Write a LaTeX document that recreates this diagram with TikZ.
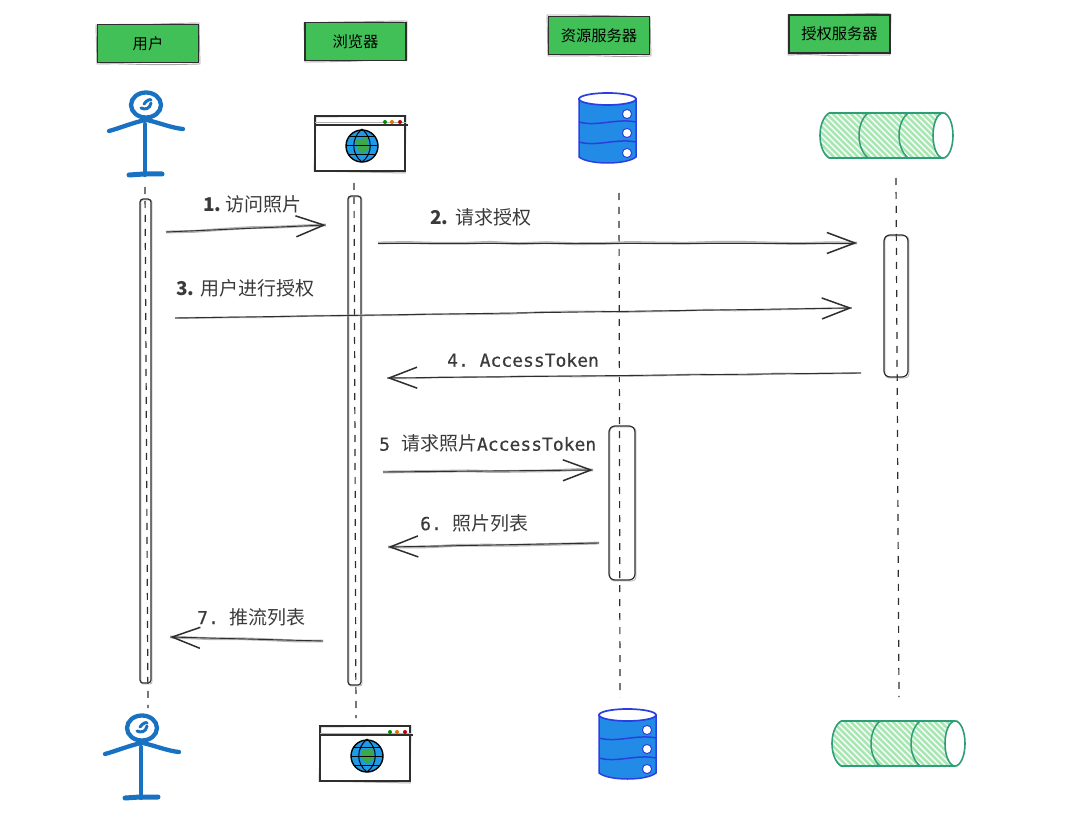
\documentclass[tikz,border=0pt]{standalone}
\usepackage{fontspec}
\setmainfont{Noto Sans CJK SC}
\newfontfamily\monof[RawFeature={embolden=0.5}]{DejaVu Sans Mono}
\usetikzlibrary{arrows.meta,decorations.pathmorphing}
\definecolor{hdrgreen}{HTML}{40C057}
\definecolor{manblue}{HTML}{1971C2}
\definecolor{dbblue}{HTML}{228BE6}
\definecolor{dbline}{HTML}{2B3FE0}
\definecolor{cylline}{HTML}{2F9E78}
\definecolor{hatch}{HTML}{A8E6B3}
\definecolor{globeblue}{HTML}{1C9BE8}
\definecolor{globegreen}{HTML}{3DA84A}
\definecolor{ink}{HTML}{2E2E2E}
\definecolor{txt}{HTML}{3A3A3A}
\pgfmathsetseed{7}
\tikzset{
  x=1pt,y=-1pt,
  rough/.style={decorate,decoration={random steps,segment length=28pt,amplitude=.7pt}},
  header/.style={draw=ink,line width=1.5pt,fill=hdrgreen,minimum width=101pt,minimum height=38pt,inner sep=0pt,text=black,font=\fontsize{15.3pt}{17pt}\selectfont},
  hdrunder/.style={draw=gray!70,line width=.9pt,rough},
  barbox/.style={draw=ink,line width=1.2pt,rounded corners=3pt,inner sep=0pt},
  barunder/.style={draw=gray!60,line width=.8pt},
  life/.style={draw=ink,line width=1.2pt,dash pattern=on 7pt off 7pt},
  msg/.style={draw=ink,line width=.9pt,-{Straight Barb[length=28pt,width=21pt,line width=1.5pt]}},
  msgunder/.style={draw=gray!60,line width=2.8pt,rough},
  lbl/.style={text=txt,anchor=west,inner sep=0pt,font=\fontsize{19pt}{22pt}\selectfont\frenchspacing},
  monolbl/.style={lbl,font=\monof\fontsize{18pt}{20pt}\selectfont\frenchspacing},
  man/.pic={
    \draw[manblue,line width=4.3pt,line cap=round] (0,0) ellipse [x radius=15,y radius=12.5];
    \draw[manblue,line width=3pt,line cap=round] (-5,3) .. controls (-1,5) and (4,4) .. (5,-2);
    \draw[manblue,line width=3pt,line cap=round] (-2,-1) .. controls (1,-5) and (4,-6) .. (5,-5);
    \draw[manblue,line width=4.3pt,line cap=round] (-1,15) .. controls (-14,18) and (-26,23) .. (-37,26);
    \draw[manblue,line width=4.3pt,line cap=round] (1,15) .. controls (14,18) and (26,23) .. (37,24);
    \draw[manblue,line width=4.3pt,line cap=round] (-1,19) -- (-1,70);
    \draw[manblue,line width=5pt,line cap=round] (-17,70) -- (-2,69) -- (16,69);
  },
  browserwin/.pic={
    \draw[gray!60,line width=1pt] (1,1) -- (91,0) -- (90,57) -- (-1,55) -- cycle;
    \draw[ink,line width=1.4pt] (0,0) rectangle (90,55);
    \draw[gray!60,line width=1pt] (0,7) -- (91,7);
    \draw[ink,line width=1.2pt] (0,9) -- (93,9);
    \fill[green!55!black] (70,6) circle (2);
    \fill[orange!90!black] (77,6) circle (2);
    \fill[red!75!black] (85,6) circle (2);
    \draw[black,fill=globeblue,line width=1.4pt] (47,30) circle (16);
    \fill[globegreen] (41,24) -- (52,22) -- (54,33) -- (47,38) -- (42,33) -- cycle;
    \draw[black,line width=1pt] (47,13) .. controls (36,22) and (36,38) .. (47,46);
    \draw[black,line width=1pt] (47,13) .. controls (58,22) and (58,38) .. (47,46);
    \draw[black,line width=1pt] (31,30) -- (63,30);
    \draw[black,line width=1pt] (34,21) -- (60,21);
    \draw[black,line width=1pt] (34,39) -- (60,39);
  },
  dbcyl/.pic={
    \draw[dbline,fill=dbblue,line width=1.5pt] (0,0) -- (0,58) .. controls (10,66) and (47,66) .. (57,58) -- (57,0) -- cycle;
    \draw[dbline,fill=white,line width=1.7pt] (28.5,0) ellipse [x radius=28.5,y radius=6];
    \draw[dbline,line width=1.5pt] (0,23) .. controls (18,28) and (38,19) .. (57,23);
    \draw[dbline,line width=1.5pt] (0,43) .. controls (18,48) and (38,39) .. (57,43);
    \foreach \hy in {15,34,54} \draw[dbline,fill=white,line width=1pt] (48,\hy) circle (4.6);
  },
  hatchcyl/.pic={
    \begin{scope}
      \clip (9,-1) -- (126,-1) -- (126,46) -- (9,46) .. controls (-3,38) and (-3,8) .. (9,-1) -- cycle;
      \foreach \i in {-50,-44,...,130} \draw[hatch,line width=2.8pt] (\i,-2) -- (\i+50,48);
    \end{scope}
    \draw[cylline,line width=1.6pt] (9,0) -- (123,0);
    \draw[cylline,line width=1.6pt] (9,45) -- (123,45);
    \draw[cylline,line width=1.6pt] (9,0) .. controls (-3,8) and (-3,37) .. (9,45);
    \draw[cylline,line width=1.5pt] (48,0) .. controls (36,10) and (36,35) .. (48,45);
    \draw[cylline,line width=1.5pt] (88,0) .. controls (76,10) and (76,35) .. (88,45);
    \draw[cylline,fill=white,line width=1.6pt] (123,22.5) ellipse [x radius=10,y radius=22.5];
  },
}
\begin{document}
\begin{tikzpicture}
\useasboundingbox (0,0) rectangle (1090,821);

% headers
\draw[hdrunder] (96,25) -- (199,23) -- (200,64) -- (97,64) -- cycle;
\draw[hdrunder] (304,23) -- (407,21) -- (407,60) -- (305,62) -- cycle;
\draw[hdrunder] (547,15) -- (650,17) -- (651,56) -- (548,56) -- cycle;
\draw[hdrunder] (788,15) -- (891,14) -- (890,55) -- (788,55) -- cycle;
\node[header] (huser) at (148,43.5) {用户};
\node[header] (hbrowser) at (355.5,41.5) {浏览器};
\node[header] (hres) at (599,35.5) {资源服务器};
\node[header] (hauth) at (839.5,34) {授权服务器};

% icons
\pic at (146,105) {man};
\pic at (142,728) {man};
\pic at (315,116) {browserwin};
\pic at (320,726) {browserwin};
\pic at (579,99) {dbcyl};
\pic at (599,715) {dbcyl};
\pic at (820,113) {hatchcyl};
\pic at (832,721) {hatchcyl};

% lifeline ends
\coordinate (ut) at (145,187);
\coordinate (ub) at (148,708);
\coordinate (bt) at (354,183);
\coordinate (bb) at (356,718);
\coordinate (rt) at (619,193);
\coordinate (rb) at (620,697);
\coordinate (at) at (896,178);
\coordinate (ab) at (899,697);
\draw[life] (ut) -- (ub);
\draw[life] (bt) -- (bb);
\draw[life] (rt) -- (rb);
\draw[life] (at) -- (ab);

% activation bars
\draw[barunder,rounded corners=2pt] (141,200) rectangle (152,684);
\draw[barunder,rounded corners=2pt] (349,197) rectangle (362,686);
\draw[barunder,rounded corners=4pt] (610,427) rectangle (636,581);
\draw[barunder,rounded corners=4pt] (885,236) rectangle (909,378);
\node[barbox,minimum width=11pt,minimum height=484pt] (ubar) at (145.5,441) {};
\node[barbox,minimum width=13pt,minimum height=489pt] (bbar) at (354.5,440.5) {};
\node[barbox,minimum width=26pt,minimum height=154pt,rounded corners=6pt] (rbar) at (622,503) {};
\node[barbox,minimum width=24pt,minimum height=142pt,rounded corners=6pt] (abar) at (896,306) {};

% messages
\coordinate (m1s) at (166,232); \coordinate (m1e) at (326,225);
\coordinate (m2s) at (378,243); \coordinate (m2e) at (857,243);
\coordinate (m3s) at (175,318); \coordinate (m3e) at (852,308);
\coordinate (m4s) at (861,373); \coordinate (m4e) at (387,378);
\coordinate (m5s) at (383,472); \coordinate (m5e) at (593,470);
\coordinate (m6s) at (599,543); \coordinate (m6e) at (388,547);
\coordinate (m7s) at (323,641); \coordinate (m7e) at (170,637);
\draw[msgunder] (m1s) -- (m1e);
\draw[msgunder] (m2s) -- (m2e);
\draw[msgunder,line width=1.8pt] (m3s) -- (m3e);
\draw[msgunder,line width=1.8pt] (m4s) -- (m4e);
\draw[msgunder] (m5s) -- (m5e);
\draw[msgunder] (m6s) -- (m6e);
\draw[msgunder] (m7s) -- (m7e);
\draw[msg] (m1s) -- (m1e);
\draw[msg] (m2s) -- (m2e);
\draw[msg] (m3s) -- (m3e);
\draw[msg] (m4s) -- (m4e);
\draw[msg] (m5s) -- (m5e);
\draw[msg] (m6s) -- (m6e);
\draw[msg] (m7s) -- (m7e);

% labels
\node[lbl] (l1) at (203,204) {\textbf{1.}\hspace{4pt}访问照片};
\node[lbl] (l2) at (430,217) {\textbf{2.}\hspace{7pt}请求授权};
\node[lbl] (l3) at (176,288) {\textbf{3.}\hspace{6pt}用户进行授权};
\node[monolbl] (l4) at (447,360) {4. AccessToken};
\node[monolbl] (l5) at (379,443.5) {5\hspace{11pt}{\rmfamily\fontsize{19pt}{22pt}\selectfont 请求照片}AccessToken};
\node[monolbl] (l6) at (420,523) {6. {\rmfamily\fontsize{19pt}{22pt}\selectfont 照片列表}};
\node[monolbl] (l7) at (197,617) {7. {\rmfamily\fontsize{19pt}{22pt}\selectfont 推流列表}};
\end{tikzpicture}
\end{document}
